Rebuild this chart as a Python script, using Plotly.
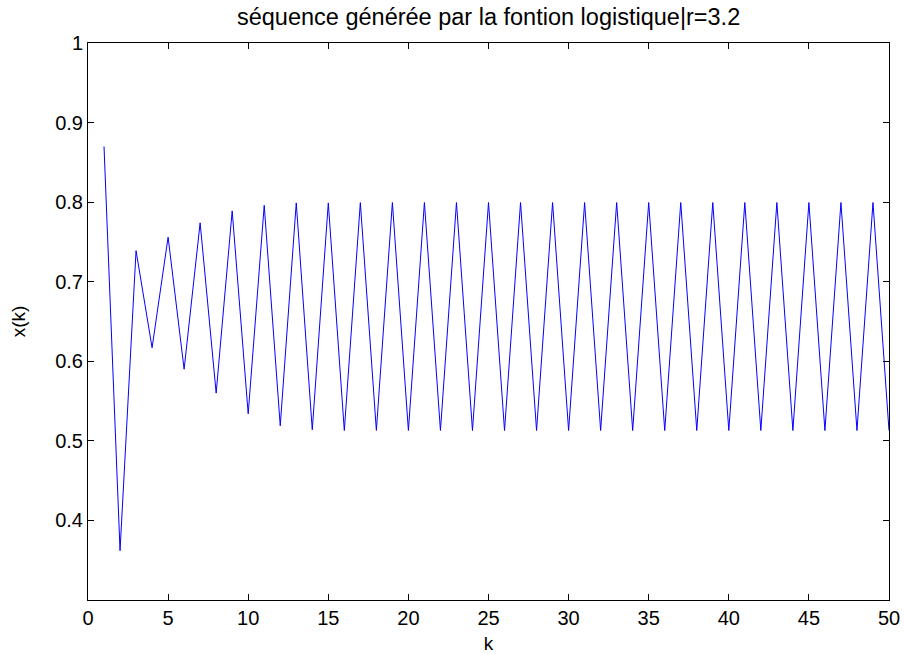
import plotly.graph_objects as go

# Logistic sequence x(k), k = 1..50, r = 3.2
k = list(range(1, 51))
x_k = [
    0.870, 0.362, 0.739, 0.617, 0.756, 0.590, 0.774, 0.560, 0.789, 0.534,
    0.796, 0.519, 0.799, 0.514, 0.799, 0.513, 0.7994, 0.5131, 0.7995, 0.5130,
    0.7995, 0.5130, 0.7995, 0.5130, 0.7995, 0.5130, 0.7995, 0.5130, 0.7995, 0.5130,
    0.7995, 0.5130, 0.7995, 0.5130, 0.7995, 0.5130, 0.7995, 0.5130, 0.7995, 0.5130,
    0.7995, 0.5130, 0.7995, 0.5130, 0.7995, 0.5130, 0.7995, 0.5130, 0.7995, 0.5130,
]

x_ticks = [0, 5, 10, 15, 20, 25, 30, 35, 40, 45, 50]
y_ticks = [0.4, 0.5, 0.6, 0.7, 0.8, 0.9, 1.0]
y_tick_text = ["0.4", "0.5", "0.6", "0.7", "0.8", "0.9", "1"]

font = "Liberation Sans, Arial, sans-serif"

fig = go.Figure(
    go.Scatter(x=k, y=x_k, mode="lines", line=dict(color="#0000ff", width=1))
)

axis_common = dict(
    showgrid=False,
    zeroline=False,
    showline=True,
    linecolor="black",
    linewidth=1,
    mirror="ticks",
    ticks="inside",
    ticklen=6,
    tickcolor="black",
    tickwidth=1,
    automargin=False,
    tickfont=dict(family=font, size=20, color="black"),
)

fig.update_layout(
    width=904,
    height=654,
    margin=dict(l=88, r=15, t=43, b=54),
    paper_bgcolor="white",
    plot_bgcolor="white",
    showlegend=False,
    title=dict(
        text="séquence générée par la fontion logistique|r=3.2",
        font=dict(family=font, size=23.5, color="black"),
        x=0.5405, xanchor="center", y=0.974, yanchor="middle",
    ),
    xaxis=dict(
        range=[0, 50],
        tickvals=x_ticks,
        title=dict(text="k", font=dict(family=font, size=19, color="black"), standoff=14),
        **axis_common,
    ),
    yaxis=dict(
        range=[0.3, 1.0],
        tickvals=y_ticks,
        ticktext=y_tick_text,
        title=dict(text="x(k)", font=dict(family=font, size=19, color="black"), standoff=24),
        **axis_common,
    ),
)

fig.write_html("out.html")
